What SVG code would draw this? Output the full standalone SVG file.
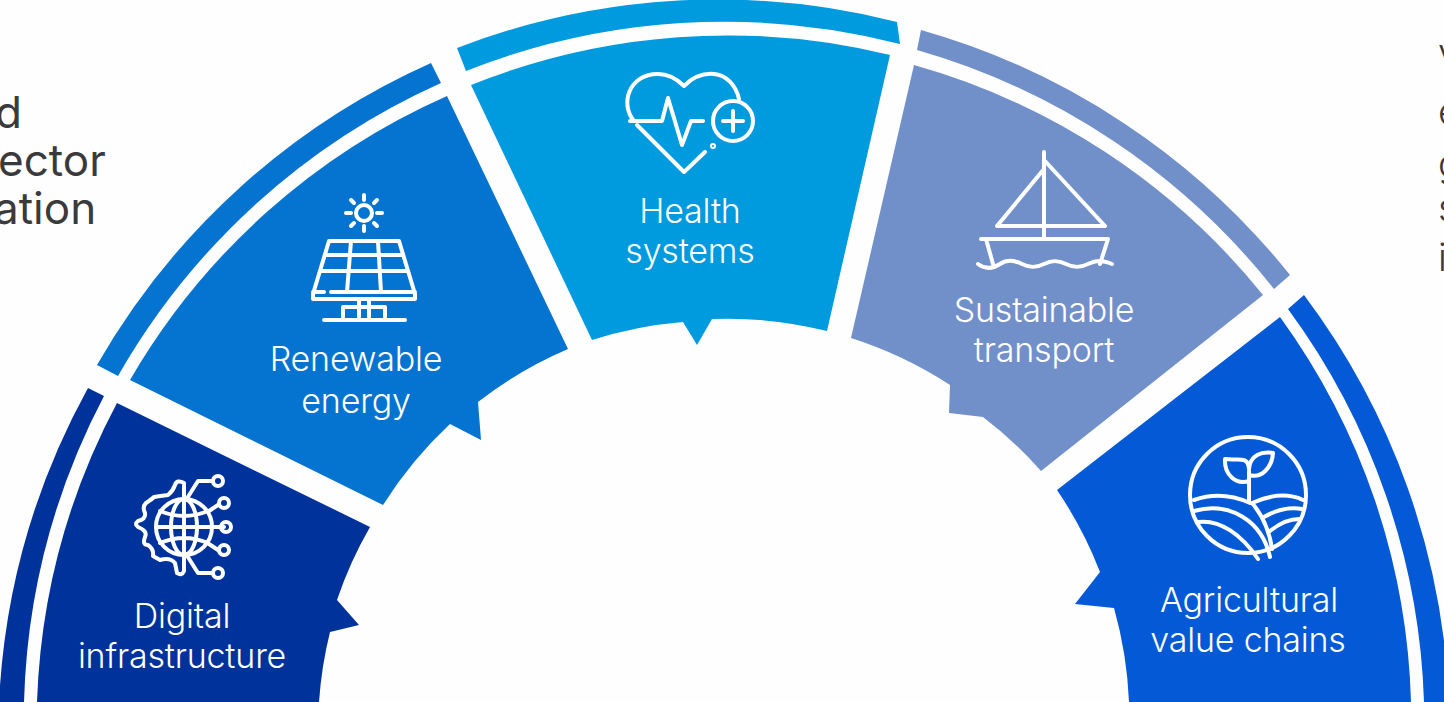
<svg xmlns="http://www.w3.org/2000/svg" width="1444" height="702" viewBox="0 0 1444 702">
<style>
.lbl{font-family:"Inter","Liberation Sans",sans-serif;font-size:34px;font-weight:300;fill:#fff;text-anchor:middle;letter-spacing:-.2px}
.side{font-family:"Inter","Liberation Sans",sans-serif;font-size:44px;font-weight:400;fill:#3a3a3c}
.ic{fill:none;stroke:#fff;stroke-width:4;stroke-linecap:round;stroke-linejoin:round}
</style>
<rect width="1444" height="702" fill="#fefefe"/>
<g id="bands">
<path fill="#00329b" d="M-1 702A725 725 0 0 1 88 388L104 396A700 700 0 0 0 24 702Z"/>
<path fill="#0474d0" d="M97 365A725 725 0 0 1 431 63L441 83A702 702 0 0 0 118 376Z"/>
<path fill="#009ade" d="M457 48A725 725 0 0 1 897 22L900 44A702 702 0 0 0 466 71Z"/>
<path fill="#7190ca" d="M921 30A725 725 0 0 1 1290 275L1274 289A702 702 0 0 0 917 50Z"/>
<path fill="#0359d6" d="M1304 295A725 725 0 0 1 1449 702H1424A700 700 0 0 0 1288 309Z"/>
</g>
<g id="node-digital">
<path fill="#00329b" d="M37 702A687 687 0 0 1 117 403L370 527A407 407 0 0 0 337 600L359 625L330 632A407 407 0 0 0 319 702Z"/>
<g class="ic" transform="translate(182 527)">
<circle cx="2" cy="0" r="28"/><ellipse cx="2" cy="0" rx="13" ry="28"/><path d="M2-28V28M-26 0H42M-22-16Q2-6 26-16M-22 16Q2 6 26 16"/>
<path d="M2-44V44Q0 49-5 46L-7 36Q-12 30-22 33L-29 29Q-28 22-34 18Q-40 18-37 10Q-34 4-44 0Q-48-3-44-6Q-36-8-37-14Q-40-20-36-24Q-30-28-28-30Q-22-31-14-32Q-9-36-7-42Q-5-48 2-44Z"/>
<path d="M4-27L16-46H30M27-16L36-22M27 17L36 23M4 27L16 46H30"/>
<circle cx="36" cy="-46" r="5"/><circle cx="42" cy="-24" r="5"/><circle cx="44" cy="0" r="5"/><circle cx="42" cy="23" r="5"/><circle cx="36" cy="46" r="5"/>
</g>
<text class="lbl" x="182" y="628">Digital</text><text class="lbl" x="182" y="668">infrastructure</text>
</g>
<g id="node-renewable">
<path fill="#0474d0" d="M130 380A687 687 0 0 1 447 96L568 349A407 407 0 0 0 478 402L481 440L450 424A407 407 0 0 0 383 505Z"/>
<g class="ic" transform="translate(364 255)">
<circle cx="0" cy="-42" r="8"/><path d="M0-60V-55M0-29V-24M-18-42H-13M13-42H18M-13-55L-10-52M13-55L10-52M-13-29L-10-32M13-29L10-32" />
<path d="M-35-14H35L51 39V44H-51V39ZM-51 37H-40M-33 37H51M-42 16H43M-38 0H39M-13-14L-17 37M14-14L17 37M-5 44V62M5 44V62M-21 62V52H21V62M-40 65H41"/>
</g>
<text class="lbl" x="356" y="371">Renewable</text><text class="lbl" x="356" y="413">energy</text>
</g>
<g id="node-health">
<path fill="#009ade" d="M471 85A687 687 0 0 1 890 55L827 331A407 407 0 0 0 712 319L697 345L683 322A407 407 0 0 0 592 340Z"/>
<g class="ic" transform="translate(610 60)">
<path d="M24 61C10 45 18 14 48 14C60 14 68 20 74 26C82 18 92 13 104 14C116 15 126 25 129 39M27 65L74 112L95 92"/>
<path d="M20 61H52L58 38L72 85L81 61H93"/>
<circle cx="123" cy="61" r="20"/><path d="M113 61H133M123 51V71"/><circle cx="103" cy="86" r="1"/>
</g>
<text class="lbl" x="690" y="223">Health</text><text class="lbl" x="690" y="263">systems</text>
</g>
<g id="node-transport">
<path fill="#7190ca" d="M914 65A687 687 0 0 1 1263 295L1041 471A407 407 0 0 0 983 417L949 413L950 385A407 407 0 0 0 851 338Z"/>
<g class="ic" transform="translate(960 140)">
<path d="M84 12V98M84 20L145 86H37L84 29M21 99H148L140 124M26 99L33 124M18 124C26 130 34 128 40 124S54 120 62 124S76 128 84 124S98 120 106 124S120 128 128 124S142 120 152 124"/>
</g>
<text class="lbl" x="1044" y="322">Sustainable</text><text class="lbl" x="1044" y="362">transport</text>
</g>
<g id="node-agri">
<path fill="#0359d6" d="M1280 317A687 687 0 0 1 1411 702H1129A407 407 0 0 0 1114 608L1075 604L1100 572A407 407 0 0 0 1057 490Z"/>
<g class="ic" transform="translate(1170 425)">
<circle cx="78" cy="70" r="58"/>
<path d="M24 75C44 68 62 70 80 78M82 78C100 70 118 68 133 75M24 86C60 76 92 96 100 132M28 97C50 94 72 110 88 134M82 78C94 92 100 110 102 124M94 92C108 84 120 82 132 84M100 106C110 98 120 94 129 94"/>
<path d="M79 76V46M79 44C78 30 68 36 55 34C54 50 66 60 79 56M79 44C80 30 92 26 103 28C102 42 92 54 79 50"/>
</g>
<text class="lbl" x="1249" y="612">Agricultural</text><text class="lbl" x="1248" y="652">value chains</text>
</g>
<g id="text-left"><text class="side" x="-5" y="128">d</text><text class="side" x="-2" y="176">ector</text><text class="side" x="-6" y="224">ation</text></g>
<g id="text-right"><text class="side" style="font-size:38px;font-weight:300" x="1438" y="66">v</text><text class="side" style="font-size:38px;font-weight:300" x="1438" y="125">e</text><text class="side" style="font-size:38px;font-weight:300" x="1438" y="177">g</text><text class="side" style="font-size:38px;font-weight:300" x="1438" y="221">s</text><text class="side" style="font-size:38px;font-weight:300" x="1438" y="271">i</text></g>
</svg>
